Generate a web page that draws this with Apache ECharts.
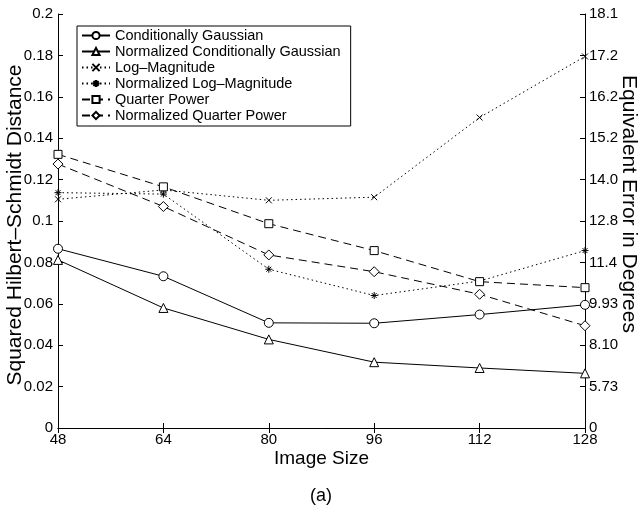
<!DOCTYPE html>
<html>
<head>
<meta charset="utf-8">
<script src="https://cdn.jsdelivr.net/npm/echarts@6/dist/echarts.min.js"></script>
<style>html,body{margin:0;padding:0;background:#fff}#chart{width:642px;height:508px}</style>
</head>
<body>
<div id="chart"></div>
<script>
// image size on x, squared HS distance on y
const imageSizes = [48, 64, 80, 96, 112, 128];
const condGaussian = [0.0866, 0.0733, 0.0508, 0.0506, 0.0548, 0.0595];
const normCondGaussian = [0.0812, 0.0580, 0.0428, 0.0318, 0.0290, 0.0264];
const logMagnitude = [0.1105, 0.1150, 0.1100, 0.1115, 0.1500, 0.1795];
const normLogMagnitude = [0.1137, 0.1130, 0.0767, 0.0640, 0.0710, 0.0857];
const quarterPower = [0.1322, 0.1165, 0.0987, 0.0857, 0.0707, 0.0678];
const normQuarterPower = [0.1275, 0.1070, 0.0836, 0.0755, 0.0646, 0.0494];
const degreeLabels = ['0', '5.73', '8.10', '9.93', '11.4', '12.8', '14.0', '15.2', '16.2', '17.2', '18.1'];

const FONT = 'Liberation Sans, Arial, Helvetica, sans-serif';
const crossPath = 'path://M0,0L10,10M10,0L0,10';
const starPath = 'path://M5,0L5,10M0,5L10,5M1.5,1.5L8.5,8.5M8.5,1.5L1.5,8.5';

function makeSeries(name, values, symbol, lineType, size) {
    return {
        name: name,
        type: 'line',
        data: imageSizes.map((x, i) => [x, values[i]]),
        symbol: symbol,
        symbolSize: size,
        showSymbol: true,
        lineStyle: { color: '#000', width: 1, type: lineType },
        itemStyle: { color: '#fff', borderColor: '#000', borderWidth: 1 },
        emphasis: { disabled: true },
        animation: false
    };
}

const dotted = [1.5, 3];
const dashed = [8, 5];

let myChart = echarts.init(document.getElementById('chart'));
myChart.setOption({
    backgroundColor: '#fff',
    textStyle: { fontFamily: FONT, color: '#000' },
    title: {
        text: '(a)',
        left: 'center',
        top: 482,
        textStyle: { fontFamily: FONT, fontSize: 18, fontWeight: 'normal', color: '#000' }
    },
    legend: {
        orient: 'vertical',
        left: 77,
        top: 26,
        padding: [2, 10, 3, 4],
        itemGap: 1,
        itemWidth: 28,
        itemHeight: 9,
        backgroundColor: '#fff',
        borderColor: '#000',
        borderWidth: 1,
        borderRadius: 0,
        textStyle: { fontFamily: FONT, fontSize: 14.5, color: '#000', lineHeight: 13, height: 14 },
        data: ['Conditionally Gaussian', 'Normalized Conditionally Gaussian', 'Log\u2013Magnitude',
               'Normalized Log\u2013Magnitude', 'Quarter Power', 'Normalized Quarter Power']
    },
    grid: { left: 58, right: 57, top: 14, bottom: 80, outerBoundsMode: 'none' },
    xAxis: [{
        type: 'value',
        min: 48, max: 128, interval: 16,
        name: 'Image Size',
        nameLocation: 'middle',
        nameGap: 21,
        nameMoveOverlap: false,
        nameTextStyle: { fontFamily: FONT, fontSize: 19, color: '#000' },
        axisLine: { lineStyle: { color: '#000', width: 1 } },
        axisTick: { inside: true, length: 5, lineStyle: { color: '#000' } },
        axisLabel: { fontFamily: FONT, fontSize: 15, color: '#000', margin: 4 },
        splitLine: { show: false }
    }, {
        type: 'value',
        position: 'top',
        min: 48, max: 128, interval: 16,
        axisLine: { lineStyle: { color: '#000', width: 1 } },
        axisTick: { inside: true, length: 5, lineStyle: { color: '#000' } },
        axisLabel: { show: false },
        splitLine: { show: false }
    }],
    yAxis: [{
        type: 'value',
        min: 0, max: 0.2, interval: 0.02,
        name: 'Squared Hilbert\u2013Schmidt Distance',
        nameLocation: 'middle',
        nameGap: 32,
        nameMoveOverlap: false,
        nameTextStyle: { fontFamily: FONT, fontSize: 21, color: '#000', padding: [0, 8, 0, 0] },
        axisLine: { show: true, lineStyle: { color: '#000', width: 1 } },
        axisTick: { show: true, inside: true, length: 5, lineStyle: { color: '#000' } },
        axisLabel: {
            fontFamily: FONT, fontSize: 15, color: '#000', margin: 5,
            formatter: v => (Math.round(v * 100) / 100).toString()
        },
        splitLine: { show: false }
    }, {
        type: 'value',
        position: 'right',
        min: 0, max: 0.2, interval: 0.02,
        name: 'Equivalent Error in Degrees',
        nameLocation: 'middle',
        nameRotate: -90,
        nameGap: 33,
        nameMoveOverlap: false,
        nameTextStyle: { fontFamily: FONT, fontSize: 21, color: '#000', padding: [0, 34, 0, 0] },
        axisLine: { show: true, lineStyle: { color: '#000', width: 1 } },
        axisTick: { show: true, inside: true, length: 5, lineStyle: { color: '#000' } },
        axisLabel: {
            fontFamily: FONT, fontSize: 15, color: '#000', margin: 4,
            formatter: v => degreeLabels[Math.round(v / 0.02)]
        },
        splitLine: { show: false }
    }],
    series: [
        makeSeries('Conditionally Gaussian', condGaussian, 'circle', 'solid', 9),
        makeSeries('Normalized Conditionally Gaussian', normCondGaussian, 'triangle', 'solid', 9),
        makeSeries('Log\u2013Magnitude', logMagnitude, crossPath, dotted, 6),
        makeSeries('Normalized Log\u2013Magnitude', normLogMagnitude, starPath, dotted, 7),
        makeSeries('Quarter Power', quarterPower, 'rect', dashed, 8),
        makeSeries('Normalized Quarter Power', normQuarterPower, 'diamond', dashed, 10)
    ]
});
</script>
</body>
</html>
